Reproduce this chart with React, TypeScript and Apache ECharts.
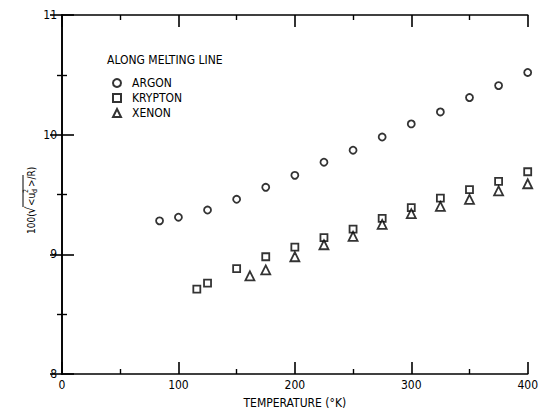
import React, { useEffect, useRef } from "react";
import * as echarts from "echarts";

const argonT = [83.8, 100, 125, 150, 175, 200, 225, 250, 275, 300, 325, 350, 375, 400];
const argonV = [9.28, 9.31, 9.37, 9.46, 9.56, 9.66, 9.77, 9.87, 9.98, 10.09, 10.19, 10.31, 10.41, 10.52];
const kryptonT = [115.8, 125, 150, 175, 200, 225, 250, 275, 300, 325, 350, 375, 400];
const kryptonV = [8.71, 8.76, 8.88, 8.98, 9.06, 9.14, 9.21, 9.3, 9.39, 9.47, 9.54, 9.61, 9.69];
const xenonT = [161.4, 175, 200, 225, 250, 275, 300, 325, 350, 375, 400];
const xenonV = [8.82, 8.87, 8.98, 9.08, 9.15, 9.25, 9.34, 9.4, 9.46, 9.53, 9.59];

const seriesNames = ["ARGON", "KRYPTON", "XENON"];
const legendTitle = "ALONG MELTING LINE";
const xTitle = "TEMPERATURE (\u00b0K)";

const FONT = "'DejaVu Sans Condensed', 'Liberation Sans Narrow', sans-serif";
const INK = "#000";

function pairs(xs: number[], ys: number[]) {
  return xs.map((x, i) => [x, ys[i]]);
}

export default function App() {
  const ref = useRef<HTMLDivElement>(null);
  useEffect(() => {
    if (!ref.current) return;
    const chart = echarts.init(ref.current, null, { renderer: "svg" });
    const axisCommon = {
      axisLine: { show: true, lineStyle: { color: INK, width: 1.6 } },
      axisTick: { show: true, inside: true, length: 12, lineStyle: { color: INK, width: 1.6 } },
      minorTick: { show: true, splitNumber: 2, length: 5, lineStyle: { color: INK, width: 1.4 } },
      splitLine: { show: false },
      minorSplitLine: { show: false },
    };
    const marker = {
      color: "#fff",
      borderColor: INK,
      borderWidth: 1.8,
    };
    const ttext = (t: string, x: number, y: number, size: number) => ({
      type: "text",
      x,
      y,
      style: {
        text: t,
        font: `${size}px ${FONT}`,
        fill: INK,
        textAlign: "left",
        textVerticalAlign: "middle",
      },
    });
    chart.setOption({
      animation: false,
      backgroundColor: "#fff",
      grid: { left: 62, right: 4, top: 15, bottom: 40 },
      xAxis: [
        {
          type: "value",
          min: 0,
          max: 400,
          interval: 100,
          position: "bottom",
          ...axisCommon,
          axisLabel: { show: true, margin: 5, fontFamily: FONT, fontSize: 12, color: INK },
          name: xTitle,
          nameLocation: "middle",
          nameGap: 23,
          nameTextStyle: { fontFamily: FONT, fontSize: 12, color: INK },
        },
        {
          type: "value",
          min: 0,
          max: 400,
          interval: 100,
          position: "top",
          ...axisCommon,
          axisLabel: { show: false },
        },
      ],
      yAxis: [
        {
          type: "value",
          min: 8,
          max: 11,
          interval: 1,
          position: "left",
          ...axisCommon,
          axisLabel: { show: true, margin: 5, fontFamily: FONT, fontSize: 12, color: INK },
        },
        {
          type: "value",
          min: 8,
          max: 11,
          interval: 1,
          position: "right",
          ...axisCommon,
          axisLabel: { show: false },
        },
      ],
      legend: {
        left: 112,
        top: 77,
        padding: 0,
        orient: "vertical",
        itemWidth: 8,
        itemHeight: 8,
        itemGap: 3,
        textStyle: { fontFamily: FONT, fontSize: 12, color: INK, lineHeight: 12, padding: [0, 0, 0, 6] },
        data: seriesNames,
      },
      graphic: [
        ttext(legendTitle, 107, 60, 12),
        {
          type: "group",
          x: 31,
          y: 234,
          rotation: Math.PI / 2,
          children: [
            ttext("100(", 0, 0, 10),
            ttext("\u221a", 20, -1, 13),
            {
              type: "line",
              shape: { x1: 27, y1: -8, x2: 59, y2: -8 },
              style: { stroke: INK, lineWidth: 1 },
            },
            ttext("<u", 28, 0, 10),
            ttext("2", 41, -5, 7),
            ttext("d", 41, 4, 7),
            ttext(">/R)", 47, 0, 10),
          ],
        },
      ],
      series: [
        {
          name: seriesNames[0],
          type: "scatter",
          symbol: "circle",
          symbolSize: 7,
          itemStyle: marker,
          data: pairs(argonT, argonV),
        },
        {
          name: seriesNames[1],
          type: "scatter",
          symbol: "rect",
          symbolSize: 7,
          itemStyle: marker,
          data: pairs(kryptonT, kryptonV),
        },
        {
          name: seriesNames[2],
          type: "scatter",
          symbol: "triangle",
          symbolSize: 9,
          itemStyle: marker,
          data: pairs(xenonT, xenonV),
        },
      ],
    });
    return () => chart.dispose();
  }, []);
  return (
    <div
      ref={ref}
      style={{ position: "fixed", left: 0, top: 0, width: 541, height: 414, background: "#fff" }}
    />
  );
}
